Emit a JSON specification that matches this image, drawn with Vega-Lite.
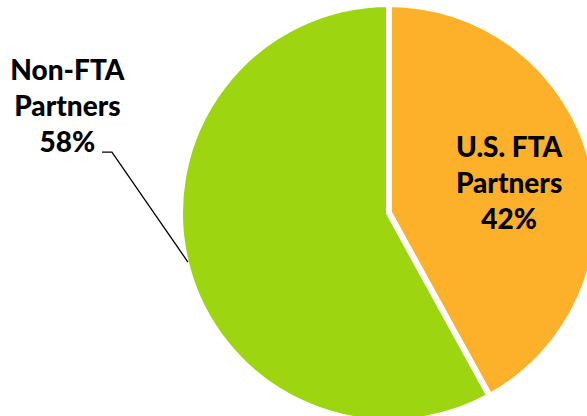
{
  "$schema": "https://vega.github.io/schema/vega-lite/v6.json",
  "width": 587,
  "height": 416,
  "autosize": {"type": "fit", "contains": "padding"},
  "padding": 0,
  "background": "white",
  "config": {"view": {"stroke": null}},
  "datasets": {
    "shares": [
      {"group": "U.S. FTA Partners", "share": 42},
      {"group": "Non-FTA Partners", "share": 58}
    ],
    "labels": [
      {"group": "U.S. FTA Partners", "lines": ["U.S. FTA", "Partners", "42%"], "lx": 0.583, "ly": 0.272},
      {"group": "Non-FTA Partners", "lines": ["Non-FTA", "Partners", "58%"], "lx": -1.561, "ly": 0.646}
    ],
    "leader": [
      {"lx": -1.393, "ly": 0.296, "k": 1},
      {"lx": -1.345, "ly": 0.296, "k": 2},
      {"lx": -0.976, "ly": -0.238, "k": 3}
    ]
  },
  "layer": [
    {
      "data": {"name": "shares"},
      "mark": {"type": "arc", "radius": 209, "stroke": "white", "strokeWidth": 6, "clip": true},
      "encoding": {
        "theta": {"field": "share", "type": "quantitative", "stack": true},
        "order": {"field": "share", "sort": "ascending"},
        "color": {
          "field": "group",
          "type": "nominal",
          "scale": {"domain": ["U.S. FTA Partners", "Non-FTA Partners"], "range": ["#FDB12A", "#9DD611"]},
          "legend": null
        },
        "x": {"datum": 0, "type": "quantitative", "scale": {"domain": [-1.8883, 0.9612], "nice": false, "zero": false}, "axis": null},
        "y": {"datum": 0, "type": "quantitative", "scale": {"domain": [-0.9854, 1.034], "nice": false, "zero": false}, "axis": null}
      }
    },
    {
      "data": {"name": "leader"},
      "mark": {"type": "line", "color": "black", "strokeWidth": 1.3},
      "encoding": {
        "x": {"field": "lx", "type": "quantitative"},
        "y": {"field": "ly", "type": "quantitative"},
        "order": {"field": "k", "type": "quantitative"}
      }
    },
    {
      "data": {"name": "labels"},
      "mark": {"type": "text", "font": "Lato", "fontWeight": 900, "fontSize": 28, "lineHeight": 36, "align": "center", "baseline": "alphabetic", "color": "black"},
      "encoding": {
        "x": {"field": "lx", "type": "quantitative"},
        "y": {"field": "ly", "type": "quantitative"},
        "text": {"field": "lines"}
      }
    }
  ]
}
